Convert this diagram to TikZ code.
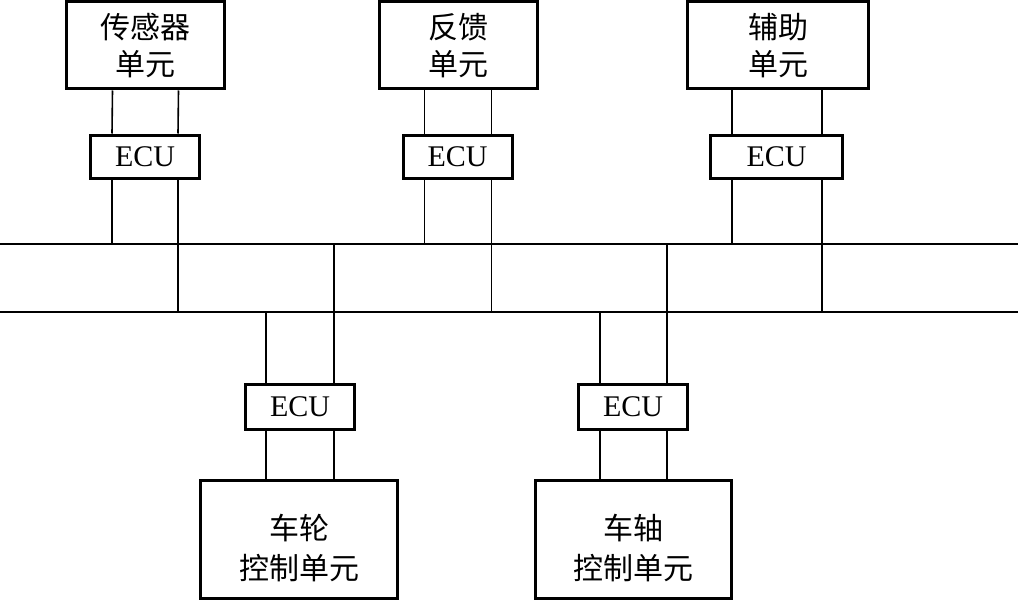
\documentclass[tikz,border=0pt]{standalone}
\usepackage{fontspec}
\setmainfont{Liberation Serif}
\newfontfamily\cjk{Noto Sans CJK SC}
\usetikzlibrary{positioning}

\begin{document}
\begin{tikzpicture}[x=1pt, y=-1pt,
    unit/.style={rectangle, draw, line width=3pt, align=center, inner sep=0pt,
                 font=\cjk\fontsize{30}{37}\selectfont},
    ecu/.style={rectangle, draw, line width=3pt, inner sep=0pt,
                minimum width=109pt, minimum height=43pt,
                font=\fontsize{30}{36}\selectfont},
    wire/.style={line width=1.6pt}
]
\useasboundingbox (0,0) rectangle (1018,602);

% top units
\node[unit, minimum width=158pt, minimum height=87pt] (sensor) at (145.5,45.5) {传感器\\单元};
\node[unit, minimum width=158pt, minimum height=87pt] (feedback) at (458.5,45.5) {反馈\\单元};
\node[unit, minimum width=181pt, minimum height=87pt] (aux) at (778,45.5) {辅助\\单元};

\node[ecu] (ecuS) at (145,156.5) {ECU};
\node[ecu] (ecuF) at (457.5,156.5) {ECU};
\node[ecu, minimum width=132pt] (ecuA) at (776.5,156.5) {ECU};

% bottom units
\node[unit, minimum width=197pt, minimum height=118pt, text height=82pt,
      font=\cjk\fontsize{30}{40}\selectfont] (wheel) at (299,539.5) {车轮\\控制单元};
\node[unit, minimum width=196pt, minimum height=118pt, text height=82pt,
      font=\cjk\fontsize{30}{40}\selectfont] (axle) at (633.5,539.5) {车轴\\控制单元};
\node[ecu, minimum height=45pt] (ecuW) at (300,407) {ECU};
\node[ecu, minimum height=45pt] (ecuX) at (633,407) {ECU};

% bus
\coordinate (busA) at (0,244);
\coordinate (busAend) at (1018,244);
\coordinate (busB) at (0,312);
\coordinate (busBend) at (1018,312);
\draw[wire] (busA) -- (busAend);
\draw[wire] (busB) -- (busBend);

% top links
\draw[wire] ([xshift=-33pt]sensor.south) -- ([xshift=-33pt]ecuS.north);
\draw[wire] ([xshift=33pt]sensor.south) -- ([xshift=33pt]ecuS.north);
\draw[wire] ([xshift=-33pt]ecuS.south) -- ([xshift=-33pt]ecuS.south |- busA);
\draw[wire] ([xshift=33pt]ecuS.south) -- ([xshift=33pt]ecuS.south |- busB);

\draw[wire] ([xshift=-34pt]feedback.south) -- ([xshift=-34pt]feedback.south |- ecuF.north);
\draw[wire] ([xshift=33pt]feedback.south) -- ([xshift=33pt]feedback.south |- ecuF.north);
\draw[wire] ([xshift=-34pt]feedback.south |- ecuF.south) -- ([xshift=-34pt]feedback.south |- busA);
\draw[wire] ([xshift=33pt]feedback.south |- ecuF.south) -- ([xshift=33pt]feedback.south |- busB);

\draw[wire] ([xshift=-46pt]aux.south) -- ([xshift=-46pt]aux.south |- ecuA.north);
\draw[wire] ([xshift=44pt]aux.south) -- ([xshift=44pt]aux.south |- ecuA.north);
\draw[wire] ([xshift=-46pt]aux.south |- ecuA.south) -- ([xshift=-46pt]aux.south |- busA);
\draw[wire] ([xshift=44pt]aux.south |- ecuA.south) -- ([xshift=44pt]aux.south |- busB);

% bottom links
\draw[wire] ([xshift=-34pt]ecuW.north |- busB) -- ([xshift=-34pt]ecuW.north);
\draw[wire] ([xshift=34pt]ecuW.north |- busA) -- ([xshift=34pt]ecuW.north);
\draw[wire] ([xshift=-34pt]ecuW.south) -- ([xshift=-34pt]ecuW.south |- wheel.north);
\draw[wire] ([xshift=34pt]ecuW.south) -- ([xshift=34pt]ecuW.south |- wheel.north);

\draw[wire] ([xshift=-33pt]ecuX.north |- busB) -- ([xshift=-33pt]ecuX.north);
\draw[wire] ([xshift=34pt]ecuX.north |- busA) -- ([xshift=34pt]ecuX.north);
\draw[wire] ([xshift=-33pt]ecuX.south) -- ([xshift=-33pt]ecuX.south |- axle.north);
\draw[wire] ([xshift=34pt]ecuX.south) -- ([xshift=34pt]ecuX.south |- axle.north);
\end{tikzpicture}
\end{document}
